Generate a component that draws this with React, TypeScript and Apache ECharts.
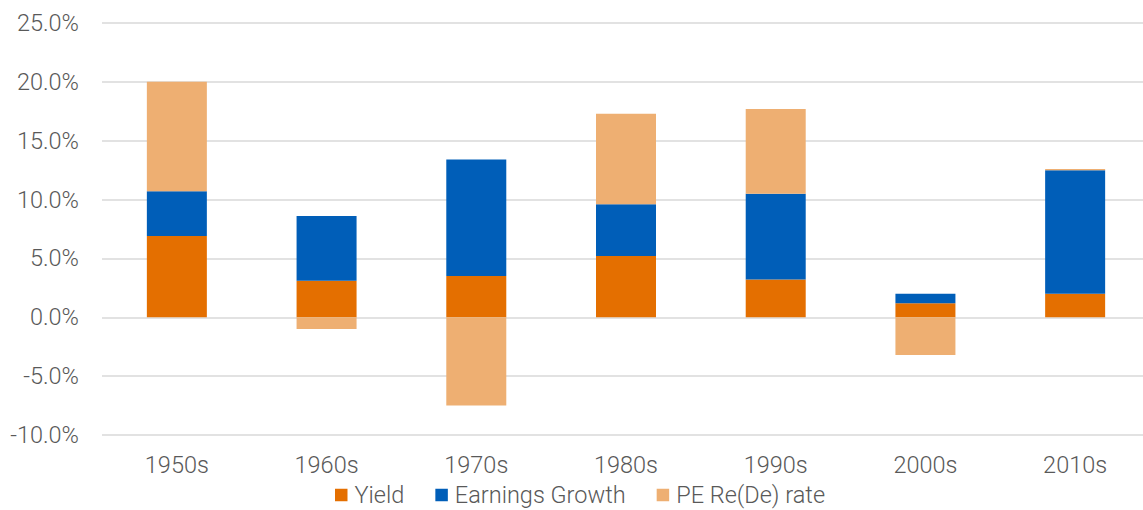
import React, { useEffect, useRef } from "react";
import * as echarts from "echarts";

const categories = ["1950s", "1960s", "1970s", "1980s", "1990s", "2000s", "2010s"];
const yieldValues = [6.9, 3.1, 3.5, 5.2, 3.2, 1.2, 2.0];
const earningsGrowth = [3.8, 5.5, 9.9, 4.4, 7.3, 0.8, 10.5];
const peRate = [9.3, -1.0, -7.5, 7.7, 7.2, -3.2, 0.1];
const seriesNames = ["Yield", "Earnings Growth", "PE Re(De) rate"];
const colors = ["#E46F00", "#005EB8", "#EEAF72"];

export default function App() {
  const ref = useRef<HTMLDivElement>(null);
  useEffect(() => {
    document.body.style.margin = "0";
    const chart = echarts.init(ref.current!, null, { renderer: "svg" });
    const font = { fontFamily: "Roboto Light, Roboto", fontWeight: 300, color: "#595959", fontSize: 23.5 };
    const mk = (name: string, data: number[], color: string) => ({
      name,
      type: "bar",
      stack: "total",
      data,
      barWidth: 60,
      itemStyle: { color },
    });
    chart.setOption({
      animation: false,
      color: colors,
      grid: { left: 102, top: 23, width: 1048, height: 412, containLabel: false },
      legend: {
        left: 335,
        top: 483,
        padding: 0,
        itemWidth: 12.5,
        itemHeight: 12.5,
        itemGap: 31,
        icon: "rect",
        textStyle: { ...font, lineHeight: 24, padding: [0, 0, 0, 2] },
        data: seriesNames,
      },
      xAxis: {
        type: "category",
        data: categories,
        axisLine: { show: false },
        axisTick: { show: false },
        axisLabel: { ...font, margin: 18 },
      },
      yAxis: {
        type: "value",
        min: -10,
        max: 25,
        interval: 5,
        axisLine: { show: false },
        axisTick: { show: false },
        splitLine: { lineStyle: { color: "#d9d9d9", width: 1.5 } },
        axisLabel: { ...font, margin: 23, formatter: (v: number) => v.toFixed(1) + "%" },
      },
      series: [
        mk(seriesNames[0], yieldValues, colors[0]),
        mk(seriesNames[1], earningsGrowth, colors[1]),
        mk(seriesNames[2], peRate, colors[2]),
      ],
    });
    return () => chart.dispose();
  }, []);
  return (
    <div style={{ width: 1143, height: 510, overflow: "hidden" }}>
      <div ref={ref} style={{ width: 1150, height: 510 }} />
    </div>
  );
}
